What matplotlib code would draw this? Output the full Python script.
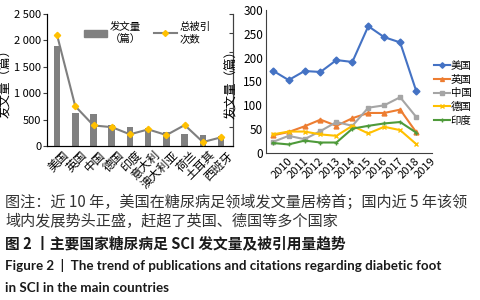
import numpy as np
import matplotlib
matplotlib.use('Agg')
import matplotlib.pyplot as plt
from matplotlib.patches import Patch
from matplotlib.lines import Line2D

plt.rcParams['font.family'] = ['Noto Sans CJK SC', 'DejaVu Sans']

# left panel: top countries, publications (bars) and total citations (line)
countries = ['美国', '英国', '中国', '德国', '印度', '意大利', '澳大利亚', '荷兰', '土耳其', '西班牙']
papers = [1900, 620, 600, 400, 360, 340, 270, 220, 200, 190]
citations = [58900, 21100, 10900, 10000, 6200, 8800, 5800, 11100, 2100, 4600]

# right panel: yearly publications
years = ['2010', '2011', '2012', '2013', '2014', '2015', '2016', '2017', '2018', '2019']
usa = [173, 153, 172, 170, 195, 191, 266, 243, 232, 131]
uk = [37, 44, 56, 70, 57, 73, 84, 84, 91, 44]
china = [23, 36, 29, 46, 65, 57, 95, 100, 117, 76]
germany = [39, 45, 45, 39, 36, 57, 41, 55, 48, 19]
india = [21, 18, 26, 22, 22, 51, 57, 62, 65, 43]

fig = plt.figure(figsize=(4.81, 3.0), dpi=100)
W, H = 481, 300

def box(l, t, r, b):
    return [l / W, 1 - b / H, (r - l) / W, (b - t) / H]

# ---- left chart
ax1 = fig.add_axes(box(47, 14, 233, 146))
x = np.arange(len(countries))
ax1.bar(x, papers, width=0.36, color='#808080', zorder=2)
ax1.set_xlim(-0.55, 9.65)
ax1.set_ylim(0, 2500)
ax1.set_yticks([0, 500, 1000, 1500, 2000, 2500])
ax1.set_yticklabels(['0', '500', '1 000', '1 500', '2 000', '2 500'], fontsize=8)
ax1.set_xticks(x + 0.3)
ax1.set_xticklabels(countries, rotation=45, ha='right', rotation_mode='anchor', fontsize=8.5)
ax1.tick_params(axis='x', length=0, pad=2)
ax1.tick_params(axis='y', length=3, pad=1, color='#404040')
ax1.set_ylabel('发文量（篇）', fontsize=9)
ax1.yaxis.set_label_coords(-0.185, 0.5)
ax1.spines['top'].set_visible(False)
for s in ['left', 'bottom', 'right']:
    ax1.spines[s].set_color('#404040')

ax1b = ax1.twinx()
ax1b.plot(x, citations, color='#7f7f7f', lw=1.5, marker='D', ms=3.2,
          mfc='#FFC000', mec='#FFC000', zorder=3)
ax1b.set_ylim(0, 70000)
ax1b.set_yticks(np.arange(0, 70001, 10000))
ax1b.set_yticklabels([])
ax1b.tick_params(axis='y', direction='in', length=3, color='#404040')
ax1b.spines['top'].set_visible(False)
ax1b.spines['right'].set_color('#404040')

handles = [Patch(color='#808080'),
           Line2D([], [], color='#7f7f7f', lw=1.5, marker='D', ms=3, mfc='#FFC000', mec='#FFC000')]
ax1.legend(handles, ['发文量\n（篇）', '总被引\n次数'], ncol=2, frameon=False, fontsize=7.5,
           loc='upper center', bbox_to_anchor=(0.54, 1.01), handlelength=2.2,
           handletextpad=0.3, columnspacing=1.2, labelspacing=0.1)

# ---- right chart
ax2 = fig.add_axes(box(266, 10, 432, 153))
xr = np.arange(len(years))
series = [('美国', usa, '#4472C4', 'D'), ('英国', uk, '#ED7D31', '^'),
          ('中国', china, '#A5A5A5', 's'), ('德国', germany, '#FFC000', 'x'),
          ('印度', india, '#4E9A3A', '+')]
for name, vals, c, m in series:
    ax2.plot(xr, vals, color=c, lw=1.5, marker=m, ms=3.5, mfc=c, mec=c, label=name)
ax2.set_xlim(-0.42, 10.0)
ax2.set_ylim(0, 300)
ax2.set_yticks(np.arange(0, 301, 50))
ax2.tick_params(axis='y', length=0, labelsize=8.5, pad=2)
ax2.set_xticks(xr + 0.9)
ax2.set_xticklabels(years, rotation=45, ha='right', rotation_mode='anchor', fontsize=8)
ax2.tick_params(axis='x', length=0, pad=2)
ax2.set_ylabel('发文量（篇）', fontsize=9)
ax2.yaxis.set_label_coords(-0.165, 0.5)
for s in ['top', 'right']:
    ax2.spines[s].set_visible(False)
for s in ['left', 'bottom']:
    ax2.spines[s].set_color('#404040')
ax2.legend(frameon=False, fontsize=7.5, loc='upper left', bbox_to_anchor=(434 / W, 1 - 61 / H),
           bbox_transform=fig.transFigure, handlelength=1.5, handletextpad=0.1,
           labelspacing=0.35, borderaxespad=0, borderpad=0, markerscale=0.8)

# ---- caption
fig.text(5 / W, 1 - 202 / H, '图注：近 10 年，美国在糖尿病足领域发文量居榜首；国内近 5 年该领',
         fontsize=10.9, va='center', color='#333333')
fig.text(5 / W, 1 - 221 / H, '域内发展势头正盛，赶超了英国、德国等多个国家',
         fontsize=10.9, va='center', color='#333333')
fig.text(5 / W, 1 - 243 / H, '图 2 丨主要国家糖尿病足 SCI 发文量及被引用量趋势',
         fontsize=10.6, va='center', fontweight='bold', color='#1a1a1a')
fig.text(5 / W, 1 - 266 / H, 'Figure 2  |  The trend of publications and citations regarding diabetic foot',
         fontsize=9.6, va='center', fontweight='bold', family=['Lato', 'DejaVu Sans'], color='#1a1a1a')
fig.text(5 / W, 1 - 288 / H, 'in SCI in the main countries',
         fontsize=9.6, va='center', fontweight='bold', family=['Lato', 'DejaVu Sans'], color='#1a1a1a')

fig.savefig('out.png', dpi=100)
